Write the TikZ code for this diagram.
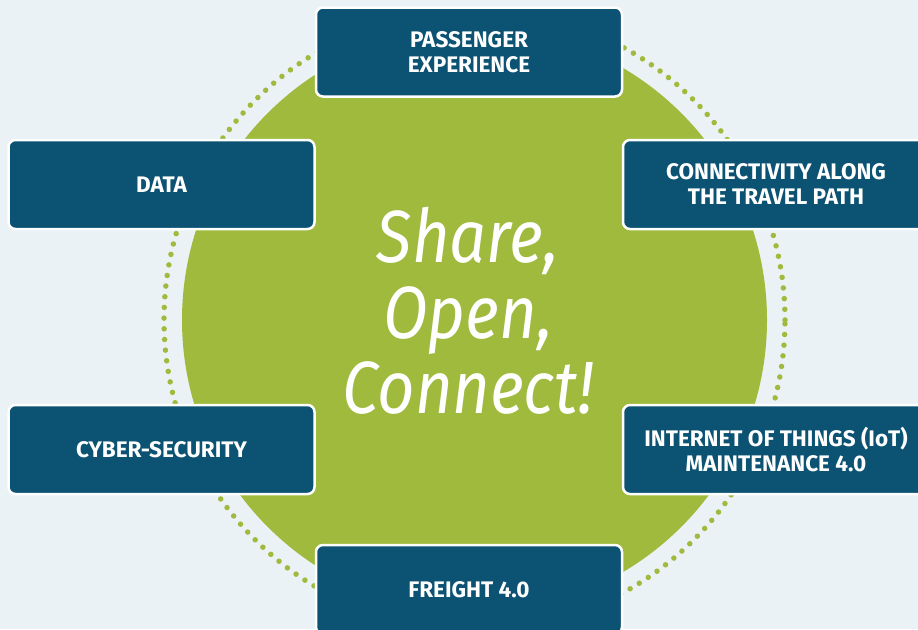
\documentclass[tikz,border=0pt]{standalone}
\usepackage{fontspec}
\setmainfont{Fira Sans}
\newfontfamily\slogfont{Fira Sans}[FakeStretch=0.88]

\definecolor{bgblue}{HTML}{EAF2F6}
\definecolor{boxblue}{HTML}{0B5273}
\definecolor{leaf}{HTML}{9FBA3C}

\tikzset{
    topic/.style={draw=white, line width=2.5pt, fill=boxblue, rounded corners=7pt,
        minimum width=306pt, minimum height=89pt, inner sep=0pt, text=white, align=center,
        font=\bfseries\fontsize{22.5}{25}\selectfont},
}

\begin{document}
\begin{tikzpicture}[x=1pt, y=-1pt]
        \useasboundingbox (0, 0) rectangle (918, 629);
        \clip (0, 0) rectangle (918, 629);
        \fill[bgblue] (0, 0) rectangle (918, 629);

        \node[circle, draw=leaf, line width=5.5pt, line cap=round, dash pattern=on 0pt off 10.7pt,
            minimum size=621pt, inner sep=0pt] (ring) at (474.5, 320) {};
        \node[circle, fill=leaf, minimum size=585pt, inner sep=0pt] (hub) at (474.5, 320) {};

        \node[text=white, align=center, font=\slogfont\itshape\fontsize{74}{75.5}\selectfont] (motto) at (468, 311) {Share,\\Open,\\Connect!};

        \node[topic] (PX) at (469, 52) {PASSENGER\\EXPERIENCE};
        \node[topic] (DT) at (161.5, 184.5) {DATA};
        \node[topic] (CT) at (776, 184.5) {CONNECTIVITY ALONG\\THE TRAVEL PATH};
        \node[topic] (CS) at (161.5, 449.5) {CYBER-SECURITY};
        \node[topic] (IT) at (776, 449.5) {INTERNET OF THINGS (IoT)\\MAINTENANCE 4.0};
        \node[topic] (FR) at (469, 589.5) {FREIGHT 4.0};
    \end{tikzpicture}
\end{document}
